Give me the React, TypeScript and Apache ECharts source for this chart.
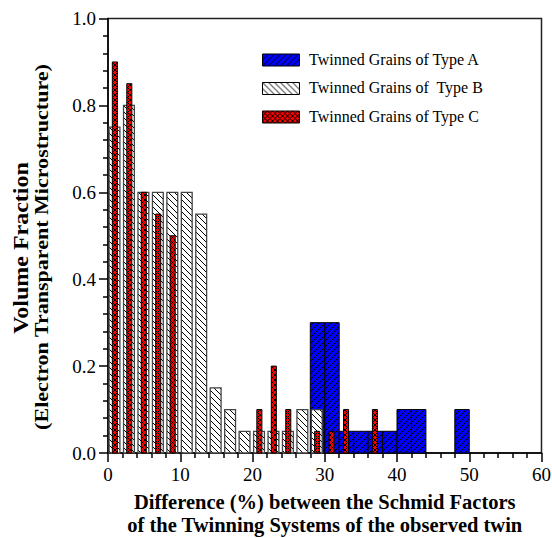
import React, { useEffect, useRef } from "react";
import * as echarts from "echarts";

// Bin starts (%) and volume fractions
const binsA = [28, 30, 32, 34, 36, 38, 40, 42, 48];
const valuesA = [0.30, 0.30, 0.05, 0.05, 0.05, 0.05, 0.10, 0.10, 0.10];

const binsB = [0, 2, 4, 6, 8, 10, 12, 14, 16, 18, 20, 22, 24, 26, 28];
const valuesB = [0.75, 0.80, 0.60, 0.60, 0.60, 0.60, 0.55, 0.15, 0.10, 0.05, 0.05, 0.05, 0.05, 0.10, 0.10];

const binsC = [0, 2, 4, 6, 8, 20, 22, 24, 28, 30, 32, 36];
const valuesC = [0.90, 0.85, 0.60, 0.55, 0.50, 0.10, 0.20, 0.10, 0.05, 0.05, 0.10, 0.10];

const seriesNames = ["Twinned Grains of Type A", "Twinned Grains of  Type B", "Twinned Grains of Type C"];
const xTitle = "Difference (%) between the Schmid Factors\nof the Twinning Systems of the observed twin";
const yTitle1 = "Volume Fraction";
const yTitle2 = "(Electron Transparent Microstructure)";

const FONT = "'Liberation Serif', 'Times New Roman', serif";

function makePattern(bg: string, size: number, fwd: boolean, back: boolean, lw: number) {
  const c = document.createElement("canvas");
  c.width = size;
  c.height = size;
  const ctx = c.getContext("2d")!;
  ctx.fillStyle = bg;
  ctx.fillRect(0, 0, size, size);
  ctx.strokeStyle = "#000";
  ctx.lineWidth = lw;
  for (const x0 of [-size, 0, size]) {
    if (fwd) {
      ctx.beginPath();
      ctx.moveTo(x0, size);
      ctx.lineTo(x0 + size, 0);
      ctx.stroke();
    }
    if (back) {
      ctx.beginPath();
      ctx.moveTo(x0, 0);
      ctx.lineTo(x0 + size, size);
      ctx.stroke();
    }
  }
  return { image: c.toDataURL(), imageWidth: size, imageHeight: size, repeat: "repeat" } as any;
}

export default function App() {
  const ref = useRef<HTMLDivElement>(null);

  useEffect(() => {
    document.body.style.margin = "0";
    if (!ref.current) return;
    const chart = echarts.init(ref.current, undefined, { renderer: "svg" });

    const patA = makePattern("#0000ff", 6, true, false, 1);
    const patB = makePattern("#ffffff", 6, false, true, 1);
    const patC = makePattern("#ff0000", 5, true, true, 1);

    const mk = (name: string, bins: number[], vals: number[], l: number, r: number, fill: any, stroke: string, lw: number) => ({
      type: "custom",
      name,
      data: bins.map((b, i) => [b, vals[i]]),
      encode: { x: 0, y: 1 },
      renderItem: (params: any, api: any) => {
        const b = api.value(0);
        const v = api.value(1);
        const p0 = api.coord([b + l, v]);
        const p1 = api.coord([b + r, 0]);
        return {
          type: "rect",
          shape: { x: p0[0], y: p0[1], width: p1[0] - p0[0], height: p1[1] - p0[1] },
          style: { fill, stroke, lineWidth: lw },
        };
      },
    });

    const legendRow = (i: number, pat: any, stroke: string) => [
      {
        type: "rect",
        left: 262,
        top: 53.5 + i * 28.5,
        shape: { width: 37, height: 12 },
        style: { fill: pat, stroke, lineWidth: 1 },
      },
      {
        type: "text",
        left: 309,
        top: 51 + i * 28.5,
        style: { text: seriesNames[i], font: `16px ${FONT}`, fill: "#000" },
      },
    ];

    chart.setOption({
      animation: false,
      grid: {
        left: 108,
        right: 10.5,
        top: 18.5,
        bottom: 85,
        show: true,
        borderColor: "#222",
        borderWidth: 1.5,
        backgroundColor: "transparent",
        outerBoundsMode: "none",
        containLabel: false,
      },
      xAxis: {
        type: "value",
        min: 0,
        max: 60,
        interval: 10,
        name: xTitle,
        nameLocation: "middle",
        nameGap: 37,
        nameTextStyle: { fontFamily: FONT, fontWeight: "bold", fontSize: 20.5, color: "#000", lineHeight: 23 },
        axisLine: { show: true, lineStyle: { color: "#000", width: 1.5 } },
        axisTick: { show: true, length: 9, lineStyle: { color: "#000", width: 1.5 } },
        minorTick: { show: true, splitNumber: 5, length: 5, lineStyle: { color: "#000", width: 1.5 } },
        axisLabel: { fontFamily: FONT, fontSize: 19, color: "#000", margin: 12 },
        splitLine: { show: false },
      },
      yAxis: {
        type: "value",
        min: 0,
        max: 1,
        interval: 0.2,
        axisLine: { show: true, lineStyle: { color: "#000", width: 1.5 } },
        axisTick: { show: true, length: 9, lineStyle: { color: "#000", width: 1.5 } },
        minorTick: { show: true, splitNumber: 5, length: 5, lineStyle: { color: "#000", width: 1.5 } },
        axisLabel: { fontFamily: FONT, fontSize: 19, color: "#000", margin: 12, formatter: (v: number) => v.toFixed(1) },
        splitLine: { show: false },
      },
      graphic: [
        {
          type: "text",
          x: 21,
          y: 248,
          rotation: Math.PI / 2,
          scaleX: 1.2,
          style: {
            text: yTitle1,
            font: `bold 20px ${FONT}`,
            fill: "#000",
            align: "center",
            verticalAlign: "middle",
          },
        },
        {
          type: "text",
          x: 42,
          y: 247,
          rotation: Math.PI / 2,
          scaleX: 1.16,
          style: {
            text: yTitle2,
            font: `bold 19px ${FONT}`,
            fill: "#000",
            align: "center",
            verticalAlign: "middle",
          },
        },
        ...legendRow(0, patA, "#000"),
        ...legendRow(1, patB, "#000"),
        ...legendRow(2, patC, "#000"),
      ],
      series: [
        mk(seriesNames[0], binsA, valuesA, 0, 2, patA, "#000", 1),
        mk(seriesNames[1], binsB, valuesB, 0.15, 1.65, patB, "#444", 1.3),
        mk(seriesNames[2], binsC, valuesC, 0.6, 1.3, patC, "#000", 1),
      ],
    } as any);

    return () => chart.dispose();
  }, []);

  return <div ref={ref} style={{ width: 552, height: 538 }} />;
}
